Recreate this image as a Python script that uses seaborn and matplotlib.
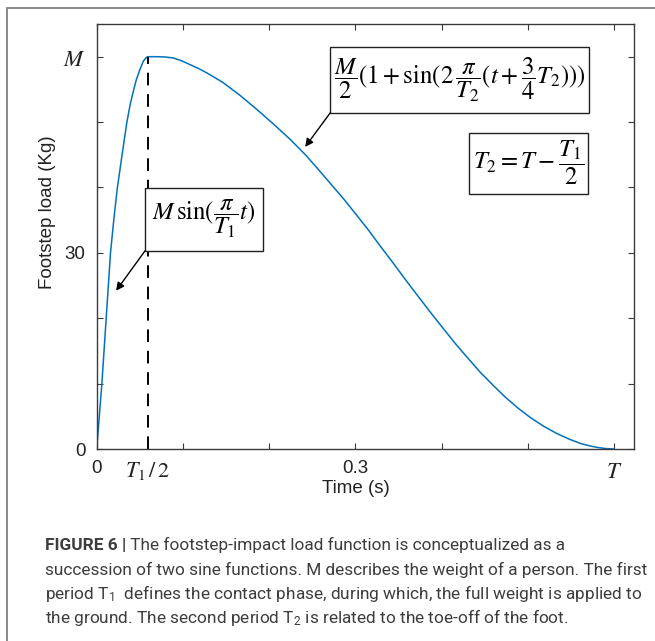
import pandas as pd
import matplotlib
matplotlib.use('Agg')
import matplotlib.pyplot as plt
from matplotlib.patches import Rectangle
import seaborn as sns

# curve: rising sine part, then the toe-off part
rise_t = [0.0, 0.003, 0.006, 0.011, 0.016, 0.020, 0.024, 0.030, 0.035,
          0.039, 0.043, 0.046, 0.050, 0.054, 0.057, 0.059]
rise_load = [0.0, 5.0, 10.0, 20.0, 30.0, 35.3, 40.0, 45.5, 50.0,
             52.8, 55.0, 56.5, 58.0, 59.3, 59.8, 60.0]
fall_t = [0.064, 0.070, 0.080, 0.089, 0.098, 0.108, 0.118, 0.128, 0.137,
          0.147, 0.156, 0.166, 0.176, 0.186, 0.195, 0.205, 0.214, 0.224,
          0.233, 0.242, 0.256, 0.271, 0.286, 0.300, 0.315, 0.329, 0.344,
          0.358, 0.373, 0.387, 0.402, 0.416, 0.431, 0.445, 0.460, 0.474,
          0.489, 0.503, 0.518, 0.533, 0.548, 0.562, 0.571, 0.580, 0.590,
          0.600]
fall_load = [60.0, 60.0, 59.95, 59.8, 59.4, 58.8, 58.2, 57.5, 56.8,
             56.0, 55.1, 54.1, 53.0, 51.9, 50.85, 49.7, 48.6, 47.4,
             46.2, 45.0, 42.9, 40.6, 38.3, 36.0, 33.5, 31.0, 28.4,
             25.9, 23.3, 20.9, 18.4, 16.1, 13.8, 11.7, 9.7, 7.9,
             6.2, 4.8, 3.5, 2.4, 1.5, 0.8, 0.5, 0.25, 0.07,
             0.0]

x_ticks = [0.0, 0.1, 0.2, 0.3, 0.4, 0.5, 0.6]
x_tick_labels = ['0', '', '', '0.3', '', '', '$T$']
y_ticks = [0, 10, 20, 30, 40, 50, 60]
y_tick_labels = ['0', '', '', '30', '', '', '$M$']

eq_rise = r'$M\,\sin(\dfrac{\pi}{T_1}t)$'
eq_fall = r'$\dfrac{M}{2}(1+\sin(2\,\dfrac{\pi}{T_2}(t+\dfrac{3}{4}T_2)))$'
eq_t2 = r'$T_2=T-\dfrac{T_1}{2}$'

caption_head = 'FIGURE 6 |'
caption_lines = [
    ' The footstep-impact load function is conceptualized as a',
    'succession of two sine functions. M describes the weight of a person. The first',
    r'period $\mathregular{T_1}$  defines the contact phase, during which, the full weight is applied to',
    r'the ground. The second period $\mathregular{T_2}$ is related to the toe-off of the foot.',
]

sns.set_theme(style='white')
plt.rcParams['font.family'] = ['Liberation Sans', 'DejaVu Sans']
plt.rcParams['mathtext.fontset'] = 'stix'

W, H = 655, 641
fig = plt.figure(figsize=(W / 100, H / 100), dpi=100)
ax = fig.add_axes([96.7 / W, 1 - 449 / H, (634 - 96.7) / W, (449 - 24) / H])

df = pd.DataFrame({'t': rise_t + fall_t, 'load': rise_load + fall_load})
sns.lineplot(data=df, x='t', y='load', ax=ax, color='#0072BD', lw=1.1,
             estimator=None, sort=False)

# dashed marker at the peak (end of first half-period)
peak = df.loc[df['load'].idxmax()]
ax.vlines(peak['t'], 0, peak['load'], colors='black', lw=1.4,
          linestyles=(0, (6.5, 4.5)))

ax.set_xlim(0, 0.623)
ax.set_ylim(0, 65)
ax.set_xticks(x_ticks, x_tick_labels)
ax.set_yticks(y_ticks, y_tick_labels)
ax.set_xticks([peak['t']], [r'$T_1\,/\,2$'], minor=True)

axis_col = '#3a3a3a'
for s in ax.spines.values():
    s.set_color(axis_col)
    s.set_linewidth(1.0)
ax.tick_params(which='major', direction='in', length=4, width=0.8, color=axis_col,
               bottom=True, left=True, top=True, right=True,
               labelsize=13.5, labelcolor='#222222', pad=8)
ax.tick_params(axis='x', which='minor', length=0, bottom=True, pad=8,
               labelsize=16, labelcolor='#222222')
for lab in ax.get_xticklabels() + ax.get_yticklabels():
    if lab.get_text().startswith('$'):
        lab.set_fontsize(16.5)

ax.set_xlabel('Time (s)', fontsize=13.5, color='#222222')
ax.set_ylabel('Footstep load (Kg)', fontsize=13.5, color='#222222')
ax.xaxis.set_label_coords(0.4826, -0.072)
ax.yaxis.set_label_coords(-0.076, 0.558)

# equation boxes: (left, right, bottom, top) in data units, arrow target
boxes = [
    (eq_rise, (0.056, 0.193, 30.3, 39.95), (0.0225, 24.2)),
    (eq_fall, (0.2707, 0.5711, 51.4, 61.5), (0.2417, 46.2)),
    (eq_t2, (0.4319, 0.5700, 39.0, 48.4), None),
]
arrow = dict(arrowstyle='-|>', color='black', lw=1.0, shrinkA=0, shrinkB=0,
             mutation_scale=12)
for eq, (x0, x1, y0, y1), target in boxes:
    ax.add_patch(Rectangle((x0, y0), x1 - x0, y1 - y0, fc='white',
                           ec='#222222', lw=1.0, zorder=4))
    ax.text((x0 + x1) / 2, (y0 + y1) / 2, eq, ha='center', va='center',
            fontsize=17.8, color='black', zorder=5)
    if target is not None:
        ax.annotate('', xy=target, xytext=(x0, y0), arrowprops=arrow, zorder=5)

# outer figure frame (right and bottom edges fall outside the picture)
fig.add_artist(Rectangle((7 / W, -0.05), 1.2, 1 - 8 / H + 0.05,
                         transform=fig.transFigure, fill=False,
                         ec='#808080', lw=1.3))

# caption, sized so the widest line fits the reference width
cap_col = '#3d3d3d'
cap_font = ['Roboto', 'DejaVu Sans']
renderer = fig.canvas.get_renderer()
probe = fig.text(0, 0, caption_lines[1], fontsize=10, family=cap_font)
size = 10 * 604 / probe.get_window_extent(renderer).width
probe.remove()

x0 = 45 / W
baselines = [550, 574.5, 599, 623]
head = fig.text(x0, 1 - baselines[0] / H, caption_head, fontsize=size,
                family=cap_font, fontweight='bold', color=cap_col, va='baseline')
head_w = head.get_window_extent(renderer).width / W
for i, line in enumerate(caption_lines):
    x = x0 + head_w if i == 0 else x0
    fig.text(x, 1 - baselines[i] / H, line, fontsize=size, family=cap_font,
             color=cap_col, va='baseline')

fig.savefig('out.png', dpi=100)
